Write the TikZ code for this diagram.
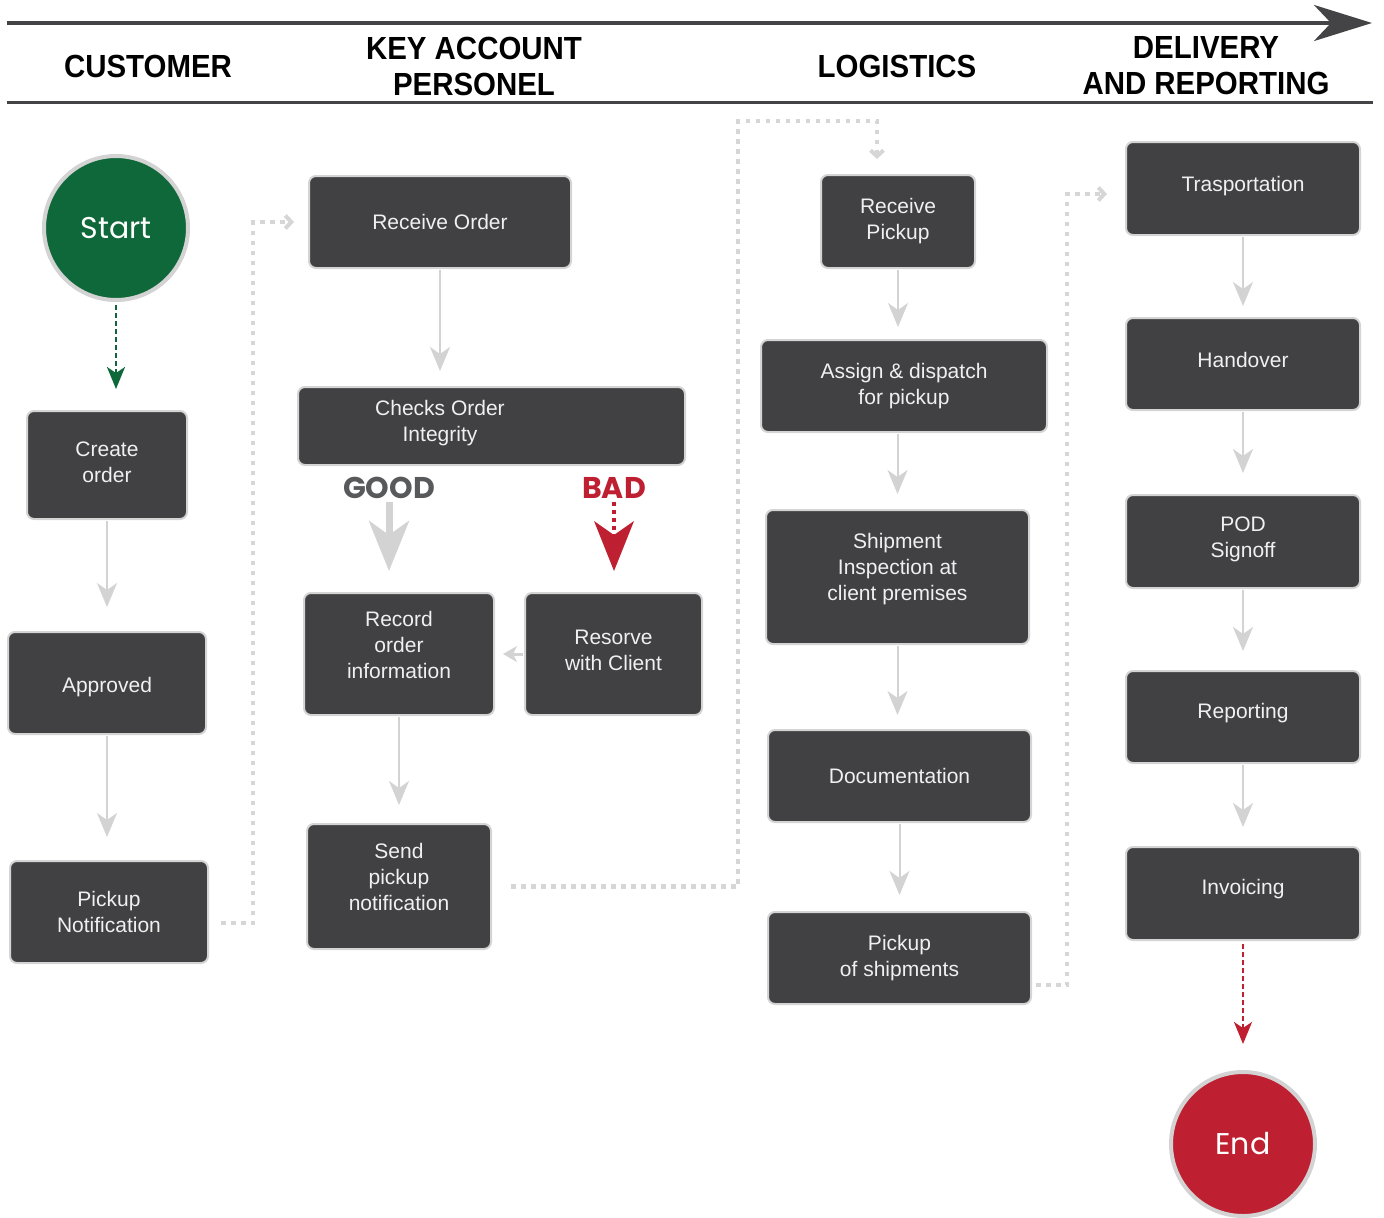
\documentclass[tikz,border=0pt]{standalone}
\usepackage{fontspec}
\setmainfont{Liberation Sans}
\newfontfamily\hdrfont[FakeStretch=0.92]{Liberation Sans}
\newfontfamily\circfont{Poppins}
\usetikzlibrary{arrows.meta}
\definecolor{boxfill}{HTML}{414042}
\definecolor{boxline}{HTML}{D4D4D4}
\definecolor{boxtext}{HTML}{F0F0F0}
\definecolor{arrowgray}{HTML}{D3D3D3}
\definecolor{dotgray}{HTML}{D6D6D6}
\definecolor{startgreen}{HTML}{0F6839}
\definecolor{endred}{HTML}{BE2031}
\definecolor{hdrline}{HTML}{444446}
\definecolor{goodgray}{HTML}{58595B}
\begin{document}
\begin{tikzpicture}[x=1pt,y=-1pt,
  box/.style={draw=boxline, line width=2pt, fill=boxfill, rounded corners=7pt,
    text=boxtext, font=\fontsize{21}{26}\selectfont, align=center, inner sep=0pt},
  boxtxt/.style={text=boxtext, font=\fontsize{21}{26}\selectfont, align=center, inner sep=0pt},
  circ/.style={circle, draw=arrowgray, line width=4pt, minimum size=144pt, inner sep=0pt,
    text=white, font=\circfont\fontsize{30}{34}\selectfont},
  hdr/.style={font=\hdrfont\bfseries\fontsize{32}{36}\selectfont, align=center, text=black, inner sep=0pt},
  flow/.style={draw=arrowgray, line width=2pt, -{Stealth[length=24pt,width=20pt,inset=7pt]},
    shorten >=17pt, shorten <=1pt},
  dotted flow/.style={draw=dotgray, line width=4.5pt, dash pattern=on 4.5pt off 5.5pt,
    -{Straight Barb[length=6pt,width=13pt,line width=4pt]}},
  lbl/.style={font=\circfont\bfseries\fontsize{30}{34}\selectfont, inner sep=0pt}
]
\useasboundingbox (0,0) rectangle (1384,1218);

% header
\coordinate (hl) at (7,23);
\coordinate (hr) at (1372,23);
\coordinate (bl) at (7,102);
\coordinate (br) at (1373,102);
\draw[hdrline, line width=4pt, -{Stealth[length=58pt,width=36pt,inset=17pt]}] (hl) -- (hr);
\draw[hdrline, line width=3pt] (bl) -- (br);
\node[hdr] (h1) at (148,66) {CUSTOMER};
\node[hdr] (h2) at (474,66) {KEY ACCOUNT\\PERSONEL};
\node[hdr] (h3) at (897,66) {LOGISTICS};
\node[hdr] (h4) at (1206,66) {DELIVERY\\AND REPORTING};

% column 1
\node[circ, fill=startgreen] (start) at (116,228) {Start};
\node[box, minimum width=160pt, minimum height=108pt] (create) at (107,465) {};
\node[boxtxt] (createtxt) at ([yshift=3pt]create.center) {Create\\order};
\node[box, minimum width=198pt, minimum height=102pt] (approved) at (107,683) {};
\node[boxtxt] (approvedtxt) at ([yshift=-4pt]approved.center) {Approved};
\node[box, minimum width=198pt, minimum height=102pt] (pnotif) at (109,912) {Pickup\\Notification};

% column 2
\node[box, minimum width=262pt, minimum height=92pt] (recv) at (440,222) {Receive Order};
\node[box, minimum width=387pt, minimum height=78pt] (checks) at (491.5,426) {};
\node[boxtxt] (checkstxt) at (440,423) {Checks Order\\Integrity};
\node[lbl, text=goodgray] (good) at (389,488) {GOOD};
\node[lbl, text=endred] (bad) at (614,488) {BAD};
\node[box, minimum width=190pt, minimum height=122pt] (record) at (399,654) {};
\node[boxtxt] (recordtxt) at ([yshift=9pt]record.center) {Record\\order\\information};
\node[box, minimum width=177pt, minimum height=122pt] (resorve) at (613.5,654) {};
\node[boxtxt] (resorvetxt) at ([yshift=4pt]resorve.center) {Resorve\\with Client};
\node[box, minimum width=184pt, minimum height=125pt] (send) at (399,886.5) {};
\node[boxtxt] (sendtxt) at ([yshift=10pt]send.center) {Send\\pickup\\notification};

% column 3
\node[box, minimum width=154pt, minimum height=93pt] (rpick) at (898,221.5) {Receive\\Pickup};
\node[box, minimum width=286pt, minimum height=92pt] (assign) at (904,386) {Assign \& dispatch\\for pickup};
\node[box, minimum width=263pt, minimum height=134pt] (ship) at (897.5,577) {};
\node[boxtxt] (shiptxt) at ([yshift=8pt]ship.center) {Shipment\\Inspection at\\client premises};
\node[box, minimum width=263pt, minimum height=92pt] (doc) at (899.5,776) {Documentation};
\node[box, minimum width=263pt, minimum height=92pt] (pship) at (899.5,958) {Pickup\\of shipments};

% column 4
\node[box, minimum width=234pt, minimum height=93pt] (trans) at (1243,188.5) {};
\node[boxtxt] (transtxt) at ([yshift=2pt]trans.center) {Trasportation};
\node[box, minimum width=234pt, minimum height=92pt] (hand) at (1243,364) {};
\node[boxtxt] (handtxt) at ([yshift=4pt]hand.center) {Handover};
\node[box, minimum width=234pt, minimum height=93pt] (pod) at (1243,541.5) {};
\node[boxtxt] (podtxt) at ([yshift=2pt]pod.center) {POD\\Signoff};
\node[box, minimum width=234pt, minimum height=92pt] (rep) at (1243,717) {};
\node[boxtxt] (reptxt) at ([yshift=4pt]rep.center) {Reporting};
\node[box, minimum width=234pt, minimum height=93pt] (inv) at (1243,893.5) {};
\node[boxtxt] (invtxt) at ([yshift=4pt]inv.center) {Invoicing};
\node[circ, fill=endred] (end) at (1243,1144) {End};

% connectors
\draw[startgreen, line width=2.5pt, dash pattern=on 5pt off 3pt,
  -{Stealth[length=22pt,width=18pt,inset=6pt]}, shorten <=3pt, shorten >=21pt]
  (start.south) -- (start.south |- create.north);
\draw[flow, shorten >=24pt] (create.south) -- (approved.north);
\draw[flow, shorten >=23pt] (approved.south) -- (approved.south |- pnotif.north);

\draw[flow, shorten >=15pt] (recv.south) -- (recv.south |- checks.north);
\draw[draw=arrowgray, line width=7pt, -{Stealth[length=50pt,width=40pt,inset=14pt]}, shorten <=3pt, shorten >=21pt]
  (good.south) -- (good.south |- record.north);
\draw[draw=endred, line width=4pt, dash pattern=on 4pt off 4pt, -{Stealth[length=50pt,width=40pt,inset=14pt, line width=0pt]},
  shorten <=3pt, shorten >=21pt]
  (bad.south) -- (bad.south |- resorve.north);
\draw[draw=arrowgray, line width=3pt, -{Stealth[length=14pt,width=16pt,inset=4pt]}, shorten <=1pt, shorten >=8pt]
  (resorve.west) -- (record.east);
\draw[flow, shorten >=18pt] (record.south) -- (send.north);

\draw[flow, shorten >=12pt] (rpick.south) -- (rpick.south |- assign.north);
\draw[flow, shorten >=15pt] (assign.south -| ship.north) -- (ship.north);
\draw[flow, shorten >=14pt] (ship.south) -- (ship.south |- doc.north);
\draw[flow, shorten >=16pt] (doc.south) -- (pship.north);

\draw[flow, shorten >=11pt] (trans.south) -- (hand.north);
\draw[flow, shorten >=21pt] (hand.south) -- (pod.north);
\draw[flow, shorten >=19pt] (pod.south) -- (rep.north);
\draw[flow, shorten >=19pt] (rep.south) -- (inv.north);
\draw[endred, line width=2.5pt, dash pattern=on 5pt off 3pt,
  -{Stealth[length=22pt,width=18pt,inset=6pt]}, shorten <=3pt, shorten >=26pt]
  (inv.south) -- (end.north);

% dotted connectors
\coordinate (k1) at (738,121);
\draw[dotted flow] ([xshift=12pt,yshift=-11pt]pnotif.east) -| ([xshift=-55pt]recv.west) -- ([xshift=-14pt]recv.west);
\draw[dotted flow] ([xshift=19pt]send.east) -| (k1) -| ([xshift=-21pt,yshift=15pt]rpick.north);
\draw[dotted flow] ([xshift=4pt,yshift=-27pt]pship.east) -| ([xshift=-58pt,yshift=-5.5pt]trans.west) -- ([xshift=-18pt,yshift=-5.5pt]trans.west);
\end{tikzpicture}
\end{document}
